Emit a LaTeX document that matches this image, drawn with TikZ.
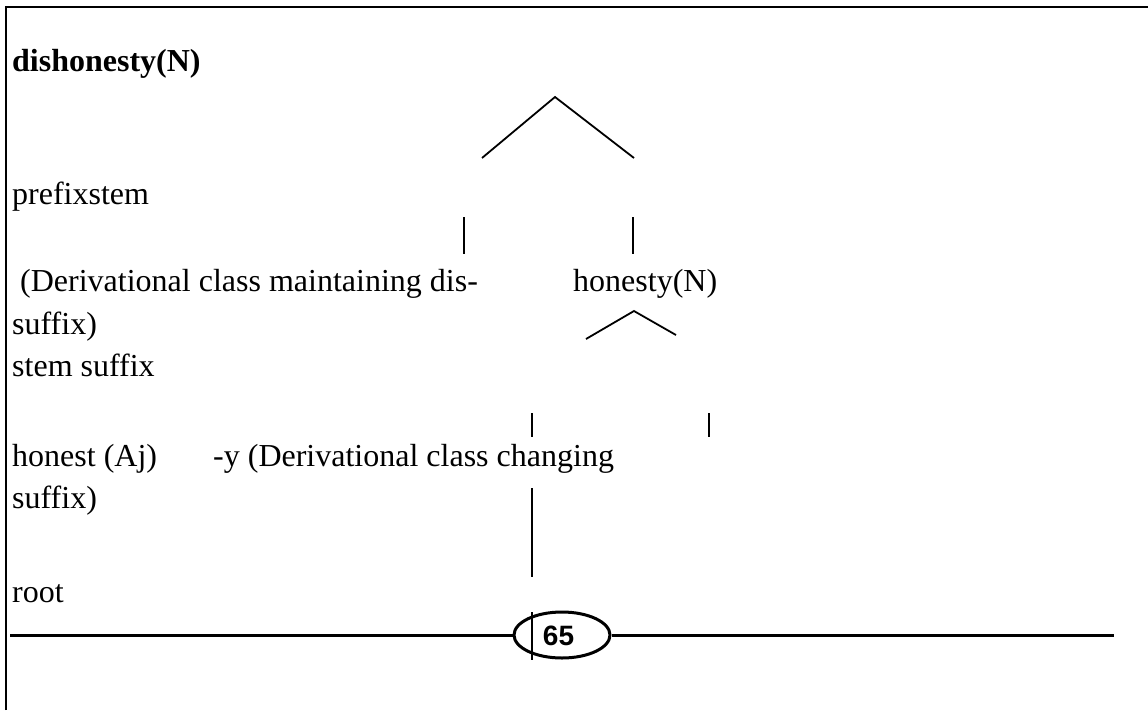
\documentclass[tikz,border=0pt]{standalone}
\usepackage{fontspec}
\setmainfont[Ligatures=NoCommon]{Liberation Serif}
\newfontfamily\badgefont{Liberation Sans}
\usetikzlibrary{shapes.geometric}
\begin{document}
\begin{tikzpicture}[x=1pt,y=-1pt,
  txt/.style={anchor=base west, inner sep=0pt, font=\fontsize{32}{36}\selectfont},
  branch/.style={line width=1.8pt},
  rulebar/.style={line width=3pt},
  framebar/.style={line width=2.2pt},
  badge/.style={draw, ellipse, line width=3pt, minimum width=96pt, minimum height=46pt, inner sep=0pt}]
\useasboundingbox (0,0) rectangle (1148,710);

% page frame (top and left edges only)
\coordinate (fbot) at (6,710);
\coordinate (fcor) at (6,7);
\coordinate (frgt) at (1148,7);
\draw[framebar] (fbot) -- (fcor) -- (frgt);

% text lines
\node[txt, font=\fontsize{32}{36}\selectfont\bfseries] (word) at (12,71) {dishonesty(N)};
\node[txt] (prefstem) at (12,204) {prefixstem};
\node[txt] (dis) at (20,291) {(Derivational class maintaining dis-};
\node[txt] (hon) at (573,291) {honesty(N)};
\node[txt] (suf1) at (12,334) {suffix)};
\node[txt] (stemsuf) at (12,376) {stem suffix};
\node[txt] (adj) at (12,466) {honest (Aj)};
\node[txt] (ysuf) at (213,466) {-y (Derivational class changing};
\node[txt] (suf2) at (12,508) {suffix)};
\node[txt] (root) at (12,602) {root};

% upper branching
\coordinate (apex1) at (555,97);
\coordinate (leg1l) at (482,158);
\coordinate (leg1r) at (634,158);
\draw[branch] (leg1l) -- (apex1) -- (leg1r);
\coordinate (v1a) at (464,217);
\coordinate (v1b) at (464,254);
\coordinate (v2a) at (633,217);
\coordinate (v2b) at (633,254);
\draw[branch] (v1a) -- (v1b);
\draw[branch] (v2a) -- (v2b);

% lower branching under honesty(N)
\coordinate (apex2) at (634,311);
\coordinate (leg2l) at (586,339);
\coordinate (leg2r) at (676,335);
\draw[branch] (leg2l) -- (apex2) -- (leg2r);
\coordinate (v3a) at (532,413);
\coordinate (v3b) at (532,437);
\coordinate (v4a) at (709,413);
\coordinate (v4b) at (709,437);
\draw[branch] (v3a) -- (v3b);
\draw[branch] (v4a) -- (v4b);
\coordinate (v5a) at (532,488);
\coordinate (v5b) at (532,577);
\draw[branch] (v5a) -- (v5b);

% page number badge on the foot rule
\node[badge] (pg) at (562,635) {};
\node[font=\badgefont\bfseries\fontsize{28}{28}\selectfont, inner sep=0pt] (pgnum) at (558.5,635.5) {65};
\coordinate (rulel) at (10,635);
\coordinate (ruler) at (1114,635);
\draw[rulebar] (rulel) -- (pg.west);
\draw[rulebar] (pg.east) -- (ruler);
\coordinate (v6a) at (532,612);
\coordinate (v6b) at (532,660);
\draw[branch] (v6a) -- (v6b);
\end{tikzpicture}
\end{document}
